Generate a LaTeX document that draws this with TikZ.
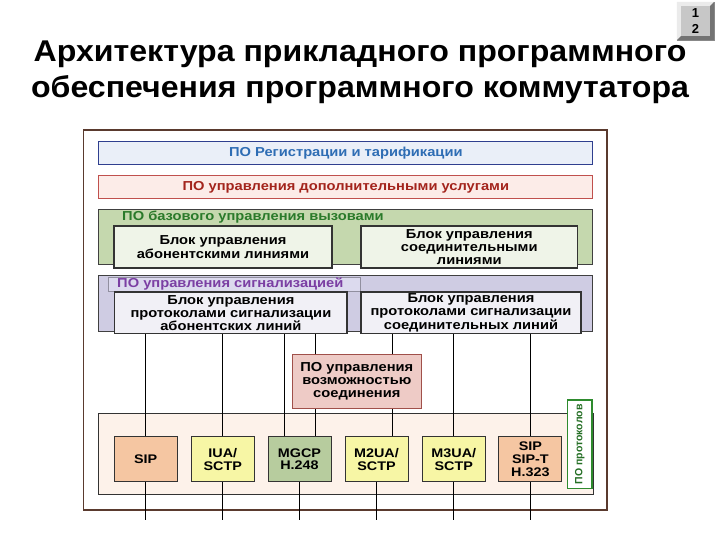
\documentclass[tikz,border=0pt]{standalone}
\usepackage{fontspec}
\setmainfont{Liberation Sans}
\newfontfamily\titlefont[FakeStretch=1.07]{Liberation Sans}
\newfontfamily\boxfont[FakeStretch=1.13]{Liberation Sans}
\newfontfamily\protofont[FakeStretch=1.15]{Liberation Sans}
\definecolor{framebrown}{HTML}{5A3A2E}
\definecolor{regfill}{HTML}{EAEFF8}
\definecolor{regdraw}{HTML}{2F3F8F}
\definecolor{regtext}{HTML}{2E6DB4}
\definecolor{addfill}{HTML}{FCECE8}
\definecolor{adddraw}{HTML}{C0504D}
\definecolor{addtext}{HTML}{A3241C}
\definecolor{basefill}{HTML}{C5D8AE}
\definecolor{basetext}{HTML}{2A7A2A}
\definecolor{blockgreen}{HTML}{EFF4E8}
\definecolor{sigfill}{HTML}{CFCCE3}
\definecolor{sigtag}{HTML}{DCDAEE}
\definecolor{sigtext}{HTML}{7B3FA3}
\definecolor{blockviolet}{HTML}{F1F0F6}
\definecolor{connfill}{HTML}{EECBC6}
\definecolor{conndraw}{HTML}{A0504A}
\definecolor{protofill}{HTML}{FDF2EA}
\definecolor{orangebox}{HTML}{F5C6A2}
\definecolor{yellowbox}{HTML}{F7F6A5}
\definecolor{greenbox}{HTML}{B7CC9E}
\definecolor{tagdraw}{HTML}{2E8B2E}
\begin{document}
\begin{tikzpicture}[x=1pt,y=-1pt,
  every node/.style={inner sep=0pt,align=center},
  txt/.style={font=\boxfont\bfseries\fontsize{13}{13.2}\selectfont},
  layer/.style={draw=#1,line width=1pt,minimum width=494pt,txt},
  block/.style={draw=black!80,line width=1.2pt,txt},
  proto/.style={draw=black!80,line width=1pt,fill=#1,minimum width=63pt,minimum height=45.5pt,font=\protofont\bfseries\fontsize{12.5}{12.8}\selectfont},
  wire/.style={line width=0.9pt,black}]
\useasboundingbox (0,0) rectangle (720,540);
% title
\node[anchor=base,font=\titlefont\bfseries\fontsize{30}{34}\selectfont] (title1) at (360,62) {Архитектура прикладного программного};
\node[anchor=base,font=\titlefont\bfseries\fontsize{30}{34}\selectfont] (title2) at (360,98) {обеспечения программного коммутатора};
% slide number
\node[fill=black!22,draw=black!45,minimum width=37pt,minimum height=38pt] (pagenum) at (695.5,21) {};
\fill[black!8] (pagenum.north west) -- (pagenum.north east) -- ++(-4,4) -- ([shift={(4,4)}]pagenum.north west) -- ([shift={(4,-4)}]pagenum.south west) -- (pagenum.south west) -- cycle;
\fill[black!55] (pagenum.south east) -- (pagenum.north east) -- ++(-4,4) -- ([shift={(-4,-4)}]pagenum.south east) -- ([shift={(4,-4)}]pagenum.south west) -- (pagenum.south west) -- cycle;
\node[font=\bfseries\fontsize{13}{16}\selectfont] at (pagenum) {1\\2};
% frame
\node[draw=framebrown,line width=1.5pt,minimum width=523.6pt,minimum height=380pt] (frame) at (345.2,320) {};
% upper layers
\node[layer=regdraw,fill=regfill,minimum height=23pt,text=regtext] (reg) at (345.8,153.5) {ПО Регистрации и тарификации};
\node[layer=adddraw,fill=addfill,minimum height=23pt,text=addtext] (addsrv) at (345.8,187.2) {ПО управления дополнительными услугами};
\node[layer=black!75,fill=basefill,minimum height=55.5pt] (base) at (345.8,237.2) {};
\node[anchor=west,txt,text=basetext] (basename) at (122,217) {ПО базового управления вызовами};
\node[block,fill=blockgreen,minimum width=218pt,minimum height=42pt] (subline) at (223,247) {Блок управления\\абонентскими линиями};
\node[block,fill=blockgreen,minimum width=216.6pt,minimum height=42pt] (trunkline) at (469.3,247) {Блок управления\\соединительными\\линиями};
% signalling layer
\node[layer=black!75,fill=sigfill,minimum height=56pt] (sig) at (345.8,303) {};
\node[draw=sigfill!70!black,fill=sigtag,minimum width=252pt,minimum height=14pt] (sigtag) at (234.6,284) {};
\node[anchor=west,txt,text=sigtext] (signame) at (117,284) {ПО управления сигнализацией};
\node[block,fill=blockviolet,minimum width=232.2pt,minimum height=41.6pt] (sigsub) at (230.9,312.8) {Блок управления\\протоколами сигнализации\\абонентских линий};
\node[block,fill=blockviolet,minimum width=220pt,minimum height=41.6pt] (sigtrunk) at (471,312.8) {Блок управления\\протоколами сигнализации\\соединительных линий};
% protocol layer
\node[draw=black!80,line width=1pt,fill=protofill,minimum width=494.4pt,minimum height=80.5pt] (protos) at (345.8,453.8) {};
\node[draw=tagdraw,line width=1.2pt,fill=white,rotate=90,minimum width=88.6pt,minimum height=24.5pt,font=\bfseries\fontsize{10.5}{12}\selectfont,text=tagdraw!80!black] (protoname) at (579.8,444.3) {ПО протоколов};
\node[proto=orangebox] (sip) at (145.6,459.2) {SIP};
\node[proto=yellowbox] (iua) at (222.8,459.2) {IUA/\\SCTP};
\node[proto=greenbox] (mgcp) at (299.5,459.2) {MGCP\\H.248};
\node[proto=yellowbox] (mtwo) at (376.5,459.2) {M2UA/\\SCTP};
\node[proto=yellowbox] (mthree) at (453.8,459.2) {M3UA/\\SCTP};
\node[proto=orangebox] (sipt) at (530.4,459.2) {SIP\\SIP-T\\H.323};
\node[draw=conndraw,line width=1pt,fill=connfill,minimum width=129.5pt,minimum height=54pt,txt] (conn) at (356.8,381.5) {ПО управления\\возможностью\\соединения};
% connections
\draw[wire] (sip.north) -- (sip.north |- sigsub.south);
\draw[wire] (iua.north) -- (iua.north |- sigsub.south);
\draw[wire] ([xshift=-15pt]mgcp.north) -- ([xshift=-15pt]mgcp.north |- sigsub.south);
\draw[wire] ([xshift=15.5pt]mgcp.north) -- ([xshift=15.5pt]mgcp.north |- conn.south);
\draw[wire] ([xshift=15.5pt]mgcp.north |- conn.north) -- ([xshift=15.5pt]mgcp.north |- sigsub.south);
\draw[wire] ([xshift=15.5pt]mtwo.north) -- ([xshift=15.5pt]mtwo.north |- conn.south);
\draw[wire] ([xshift=15.5pt]mtwo.north |- conn.north) -- ([xshift=15.5pt]mtwo.north |- sigtrunk.south);
\draw[wire] (mthree.north) -- (mthree.north |- sigtrunk.south);
\draw[wire] (sipt.north) -- (sipt.north |- sigtrunk.south);
\foreach \p in {sip,iua,mgcp,mtwo,mthree,sipt}
  \draw[wire] (\p.south) -- ++(0,38);
\end{tikzpicture}
\end{document}
